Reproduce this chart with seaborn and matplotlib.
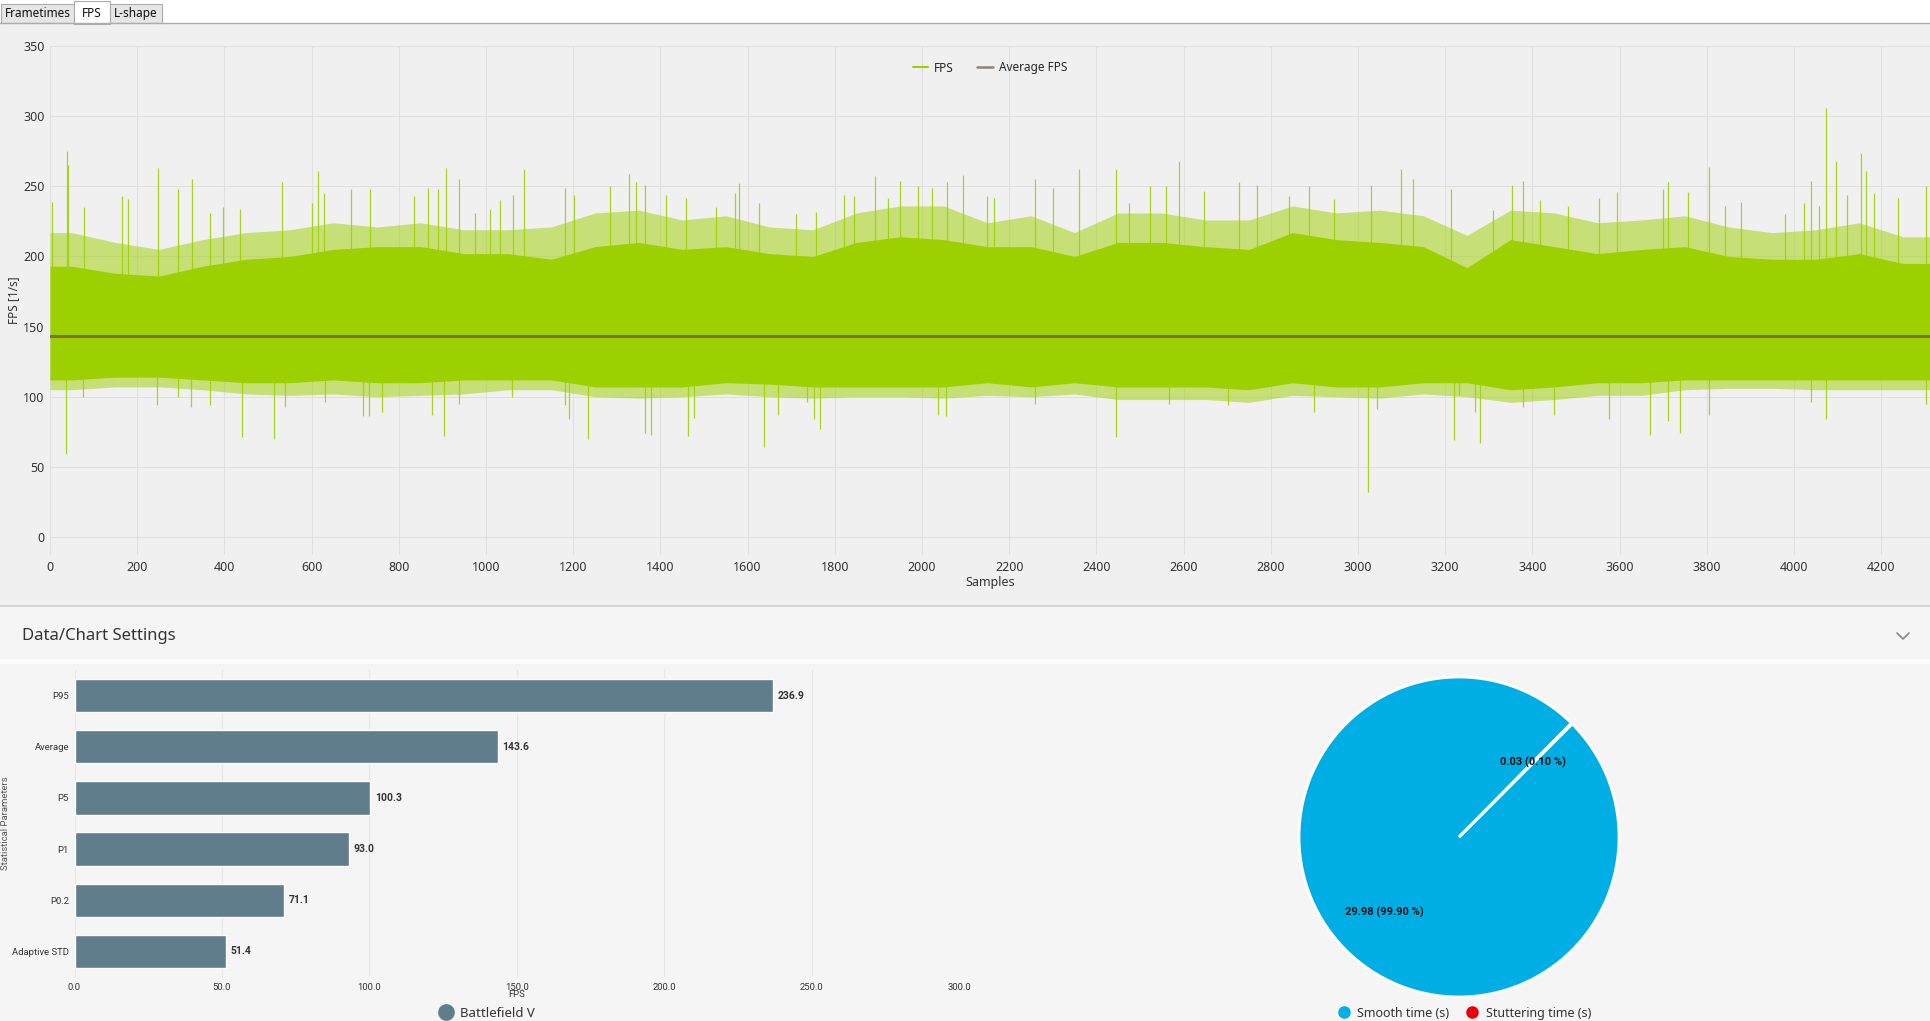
import matplotlib
matplotlib.use("Agg")
import matplotlib.pyplot as plt
from matplotlib.lines import Line2D
from matplotlib.patches import Rectangle
import numpy as np
import seaborn as sns

W, H = 1930, 1021

# ---- FPS trace (100-sample bins) ----
BIN_START = list(range(0, 4400, 100))
CORE_HI = [193, 188, 186, 193, 198, 200, 205, 207, 207, 202, 202, 198, 207, 210, 205,
           207, 202, 200, 210, 214, 212, 207, 207, 200, 210, 210, 207, 205, 217, 212,
           210, 207, 192, 212, 207, 202, 205, 207, 200, 198, 198, 202, 195, 195]
FRINGE_HI = [217, 210, 205, 212, 217, 219, 224, 221, 224, 219, 219, 221, 231, 233, 226,
             229, 221, 219, 231, 236, 236, 224, 229, 217, 231, 231, 226, 226, 236, 231,
             233, 229, 215, 233, 231, 224, 226, 229, 221, 217, 219, 224, 214, 214]
CORE_LO = [112, 114, 114, 112, 110, 110, 112, 110, 110, 112, 112, 112, 107, 107, 107,
           110, 109, 107, 107, 107, 107, 110, 107, 110, 107, 107, 107, 105, 110, 107,
           107, 110, 110, 105, 107, 110, 110, 112, 112, 112, 112, 112, 112, 112]
FRINGE_LO = [105, 107, 107, 105, 102, 101, 102, 100, 101, 102, 105, 105, 100, 99, 100,
             102, 100, 99, 100, 100, 99, 101, 100, 102, 98, 98, 98, 96, 101, 100,
             99, 102, 100, 96, 98, 101, 101, 105, 106, 106, 105, 105, 105, 105]

# single spikes (sample, fps)
PEAKS = [(5, 239), (39, 275), (42, 265), (77, 235), (165, 243), (180, 241), (247, 263),
         (293, 248), (326, 255), (366, 231), (397, 235), (435, 234), (532, 253),
         (600, 238), (614, 261), (629, 245), (690, 248), (734, 248), (834, 243),
         (868, 249), (889, 248), (909, 263), (937, 255), (975, 231), (1010, 234),
         (1033, 240), (1061, 244), (1087, 262), (1181, 249), (1201, 244), (1284, 250),
         (1328, 259), (1345, 253), (1365, 251), (1412, 244), (1458, 242), (1527, 235),
         (1570, 245), (1581, 252), (1627, 238), (1711, 230), (1757, 232), (1822, 244),
         (1845, 243), (1893, 257), (1922, 242), (1950, 254), (1991, 250), (2022, 249),
         (2058, 253), (2095, 258), (2148, 243), (2166, 242), (2260, 255), (2301, 249),
         (2359, 262), (2446, 262), (2474, 238), (2524, 250), (2560, 250), (2589, 268),
         (2646, 247), (2726, 253), (2768, 251), (2841, 243), (2887, 250), (2945, 241),
         (3029, 251), (3098, 262), (3126, 255), (3214, 248), (3310, 233), (3353, 251),
         (3379, 254), (3417, 240), (3482, 236), (3552, 242), (3594, 246), (3700, 248),
         (3711, 253), (3757, 246), (3805, 264), (3841, 236), (3879, 239), (3979, 230),
         (4023, 238), (4039, 254), (4057, 236), (4074, 306), (4096, 268), (4122, 244),
         (4153, 274), (4165, 261), (4184, 245), (4239, 242), (4302, 250)]
DIPS = [(37, 59), (75, 100), (246, 94), (293, 100), (324, 93), (368, 94), (441, 71),
        (513, 70), (539, 93), (631, 96), (719, 86), (732, 86), (761, 89), (877, 87),
        (903, 72), (937, 95), (1060, 100), (1181, 94), (1191, 84), (1234, 70),
        (1365, 74), (1378, 73), (1464, 72), (1478, 85), (1638, 64), (1670, 87),
        (1736, 96), (1753, 84), (1765, 77), (2036, 87), (2056, 86), (2259, 95),
        (2446, 71), (2566, 95), (2703, 94), (2900, 89), (3023, 32), (3044, 91),
        (3221, 69), (3232, 101), (3268, 89), (3281, 67), (3379, 93), (3449, 87),
        (3575, 84), (3669, 73), (3711, 83), (3738, 74), (3805, 87), (4038, 96),
        (4074, 84), (4302, 95)]
N_SAMPLES = 4312
AVG_FPS = 143.6

# ---- statistics bar chart ----
STAT_NAMES = ["P95", "Average", "P5", "P1", "P0.2", "Adaptive STD"]
STAT_VALUES = [236.9, 143.6, 100.3, 93.0, 71.1, 51.4]
SERIES_NAME = "Battlefield V"

# ---- stutter pie ----
PIE_NAMES = ["Smooth time (s)", "Stuttering time (s)"]
PIE_VALUES = [29.98, 0.03]
PIE_PCT = [99.90, 0.10]

GREEN = "#9DD000"
AVG_COLOR = "#7a6650"
BAR_COLOR = "#607D8B"
PIE_COLORS = ["#00AEE6", "#E8000B"]
TEXT = "#333333"
NARROW = ["Roboto", "DejaVu Sans"]

sns.set_theme(style="whitegrid")
plt.rcParams["font.family"] = ["Noto Sans", "DejaVu Sans"]
plt.rcParams["axes.unicode_minus"] = False


def px_axes(fig, left, top, right, bottom):
    return fig.add_axes([left / W, 1 - bottom / H, (right - left) / W, (bottom - top) / H])


def fig_rect(fig, x0, y0, x1, y1, fc, ec="none", lw=0.0, z=0):
    fig.add_artist(Rectangle((x0 / W, 1 - y1 / H), (x1 - x0) / W, (y1 - y0) / H,
                             transform=fig.transFigure, facecolor=fc, edgecolor=ec,
                             linewidth=lw, zorder=z))


def fig_line(fig, xs, ys, color, lw=1.0):
    fig.add_artist(Line2D([x / W for x in xs], [1 - y / H for y in ys],
                          transform=fig.transFigure, color=color, linewidth=lw))


fig = plt.figure(figsize=(W / 100, H / 100), dpi=100, facecolor="#F0F0F0")

# window chrome: tab strip and lower panel
fig_rect(fig, 0, 0, W, 23, "#FFFFFF")
fig_line(fig, [0, W], [23, 23], "#ACACAC", 1.0)
tabs = [("Frametimes", 1, 74, 4, "#E6E6E6"), ("FPS", 74, 110, 1, "#FFFFFF"),
        ("L-shape", 110, 162, 4, "#E6E6E6")]
for name, x0, x1, y0, fc in tabs:
    fig_rect(fig, x0, y0, x1, 23 if fc != "#FFFFFF" else 24, fc, "#ACACAC", 0.8, z=1)
    fig.text((x0 + x1) / 2 / W, 1 - 13.5 / H, name, ha="center", va="center",
             fontsize=8.5, color="#111111", zorder=2)

fig_rect(fig, 0, 606, W, H, "#F5F5F5")
fig_line(fig, [0, W], [606, 606], "#CFCFCF", 1.2)
fig_line(fig, [0, W], [661, 661], "#FCFCFC", 3.5)
fig.text(22 / W, 1 - 636 / H, "Data/Chart Settings", ha="left", va="center",
         fontsize=12, color=TEXT)
fig_line(fig, [1897, 1903, 1909], [633, 639, 633], "#8A8A8A", 1.2)

# ---- FPS over samples ----
ax = px_axes(fig, 50, 46, 1930, 555)
ax.set_facecolor("#F0F0F0")
centers = np.r_[0, np.array(BIN_START) + 50]
f_hi = np.r_[FRINGE_HI[0], FRINGE_HI]
f_lo = np.r_[FRINGE_LO[0], FRINGE_LO]
c_hi = np.r_[CORE_HI[0], CORE_HI]
c_lo = np.r_[CORE_LO[0], CORE_LO]
ax.fill_between(centers, f_lo, f_hi, color=GREEN, alpha=0.5, linewidth=0, zorder=2)
ax.fill_between(centers, c_lo, c_hi, color=GREEN, linewidth=0, zorder=3)
px_, py_ = zip(*PEAKS)
dx_, dy_ = zip(*DIPS)
ax.vlines(px_, AVG_FPS, py_, color=GREEN, linewidth=0.9, alpha=0.85, zorder=3)
ax.vlines(dx_, dy_, AVG_FPS, color=GREEN, linewidth=0.9, alpha=0.85, zorder=3)
ax.axhline(AVG_FPS, color=AVG_COLOR, linewidth=2.2, alpha=0.9, zorder=4)

ax.set_xlim(0, N_SAMPLES)
ax.set_ylim(-12.8, 350)
ax.set_xticks(range(0, 4300, 200))
ax.set_yticks(range(0, 351, 50))
ax.grid(True, color="#E0E0E0", linewidth=0.8)
ax.set_axisbelow(True)
for s in ax.spines.values():
    s.set_visible(False)
ax.tick_params(length=0, labelsize=9, colors=TEXT, pad=4)
ax.set_xlabel("Samples", fontsize=9, color=TEXT, labelpad=2)
ax.set_ylabel("FPS [1/s]", fontsize=8.5, color=TEXT, labelpad=2)
ax.legend(handles=[Line2D([], [], color=GREEN, lw=1.5),
                   Line2D([], [], color=AVG_COLOR, lw=1.8, alpha=0.8)],
          labels=["FPS", "Average FPS"], loc="center",
          bbox_to_anchor=((990 - 50) / 1880, 1 - (68 - 46) / 509),
          ncol=2, frameon=False, fontsize=8.5, handlelength=1.3,
          handletextpad=0.5, columnspacing=2.0)

# ---- statistical parameters ----
bx = px_axes(fig, 74.5, 670, 959, 977)
bx.set_facecolor("#F5F5F5")
sns.barplot(x=STAT_VALUES, y=STAT_NAMES, orient="h", color=BAR_COLOR, width=0.65,
            saturation=1, ax=bx)
for i, v in enumerate(STAT_VALUES):
    bx.text(v + 1.5, i, f"{v:.1f}", va="center", ha="left", fontsize=7.5,
            fontweight="bold", color=TEXT, family=NARROW)
bx.set_xlim(0, 300)
bx.set_ylim(5.5, -0.5)
bx.set_xticks(range(0, 301, 50))
bx.set_xticklabels([f"{t:.1f}" for t in range(0, 301, 50)])
bx.grid(True, axis="x", color="#E6E6E6", linewidth=0.8)
bx.grid(False, axis="y")
for s in bx.spines.values():
    s.set_visible(False)
bx.tick_params(length=0, labelsize=6.8, colors=TEXT, pad=4)
for lab in bx.get_yticklabels() + bx.get_xticklabels():
    lab.set_family(NARROW)
bx.set_xlabel("FPS", fontsize=6.8, color=TEXT, labelpad=-1, family=NARROW)
bx.set_ylabel("")
fig.text(6 / W, 1 - 823 / H, "Statistical Parameters", rotation=90, ha="center",
         va="center", fontsize=6.8, color="#555555", family=NARROW)
fig.legend(handles=[Line2D([], [], marker="o", ls="", color=BAR_COLOR, markersize=11)],
           labels=[SERIES_NAME], loc="center", bbox_to_anchor=(484 / W, 1 - 1013 / H),
           frameon=False, fontsize=9.5, handletextpad=0.1, labelcolor=TEXT)

# ---- smooth vs stuttering time ----
pax = px_axes(fig, 1299, 677, 1619, 997)
labels = [f"{v:.2f} ({p:.2f} %)" for v, p in zip(PIE_VALUES, PIE_PCT)]
wedges, texts = pax.pie(PIE_VALUES, colors=PIE_COLORS, startangle=45,
                        counterclock=False, labels=labels, labeldistance=0.66,
                        wedgeprops=dict(edgecolor="white", linewidth=2))
for t in texts:
    t.set_ha("center")
    t.set_va("center")
    t.set_fontsize(8)
    t.set_fontweight("bold")
    t.set_family(NARROW)
    t.set_color("#111111")
pax.set_xlim(-1, 1)
pax.set_ylim(-1, 1)
pax.set_aspect("equal")
pax.axis("off")
fig.legend(handles=[Line2D([], [], marker="o", ls="", color=c, markersize=8)
                    for c in PIE_COLORS],
           labels=PIE_NAMES, loc="center", bbox_to_anchor=(1461 / W, 1 - 1013 / H),
           ncol=2, frameon=False, fontsize=9, handletextpad=0.1,
           columnspacing=0.8, labelcolor=TEXT)

fig.savefig("out.png", dpi=100, facecolor=fig.get_facecolor())
